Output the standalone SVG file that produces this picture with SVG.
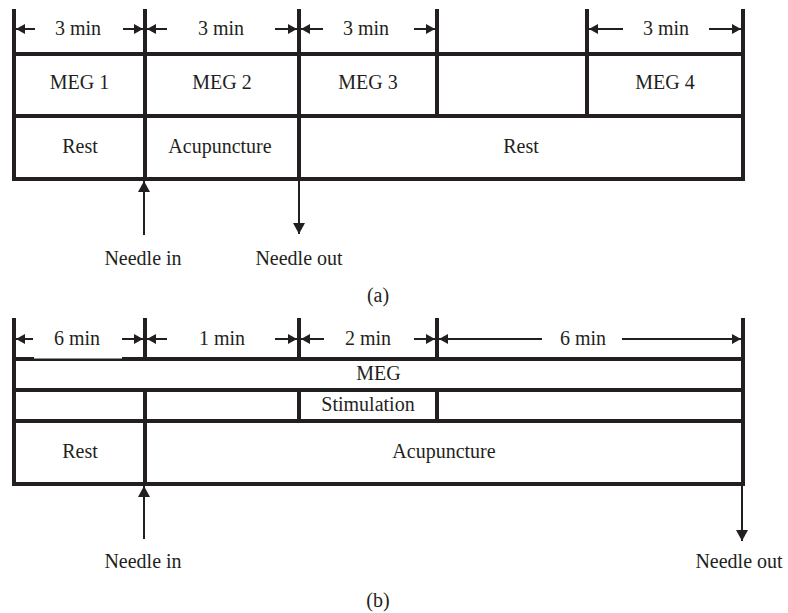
<svg xmlns="http://www.w3.org/2000/svg" width="788" height="613" viewBox="0 0 788 613">
<style>
  .frame{stroke:#231f20;stroke-width:4;fill:none;stroke-linecap:square}
  .dim{stroke:#231f20;stroke-width:2;fill:none}
  .needle{stroke:#231f20;stroke-width:2;fill:none}
  text{font-family:"Liberation Serif","Times New Roman",serif;font-size:20px;fill:#231f20;text-anchor:middle}
</style>
<defs>
  <marker id="ah" markerUnits="userSpaceOnUse" markerWidth="10" markerHeight="10" refX="9" refY="5" orient="auto">
    <path d="M0,0 L9,5 L0,10 Z" fill="#231f20"/>
  </marker>
  <marker id="nh" markerUnits="userSpaceOnUse" markerWidth="12" markerHeight="12" refX="11" refY="6" orient="auto">
    <path d="M0,0 L11,6 L0,12 Z" fill="#231f20"/>
  </marker>
</defs>

<!-- Panel (a) -->
<g id="panel-a-frame">
  <path class="frame" d="M14,11 V179 M145,11 V179 M299,11 V179 M437,11 V116 M587,11 V116 M743,11 V179 M14,54 H743 M14,116 H743 M14,179 H743"/>
</g>
<g id="a-dimensions">
  <path class="dim" marker-end="url(#ah)" d="M35,29 H16"/>
  <path class="dim" marker-end="url(#ah)" d="M123,29 H143"/>
  <text x="78" y="35">3 min</text>
  <path class="dim" marker-end="url(#ah)" d="M167,29 H147"/>
  <path class="dim" marker-end="url(#ah)" d="M275,29 H297"/>
  <text x="221" y="35">3 min</text>
  <path class="dim" marker-end="url(#ah)" d="M323,29 H301"/>
  <path class="dim" marker-end="url(#ah)" d="M414,29 H435"/>
  <text x="366" y="35">3 min</text>
  <path class="dim" marker-end="url(#ah)" d="M623,29 H589"/>
  <path class="dim" marker-end="url(#ah)" d="M709,29 H741"/>
  <text x="666" y="35">3 min</text>
</g>
<g id="a-meg1"><text x="79.5" y="89">MEG 1</text></g>
<g id="a-meg2"><text x="222" y="89">MEG 2</text></g>
<g id="a-meg3"><text x="368" y="89">MEG 3</text></g>
<g id="a-meg4"><text x="665" y="89">MEG 4</text></g>
<g id="a-rest1"><text x="80" y="153">Rest</text></g>
<g id="a-acu"><text x="220" y="153">Acupuncture</text></g>
<g id="a-rest2"><text x="521" y="153">Rest</text></g>
<g id="a-connectors">
  <path class="needle" marker-end="url(#nh)" d="M144,235 V181"/>
  <path class="needle" marker-end="url(#nh)" d="M299,181 V234"/>
</g>
<g id="a-needle-in"><text x="143" y="265">Needle in</text></g>
<g id="a-needle-out"><text x="299" y="265">Needle out</text></g>
<text x="378" y="302">(a)</text>

<!-- Panel (b) -->
<g id="panel-b-frame">
  <path class="frame" d="M14,320 V484 M145,320 V359 M145,390 V484 M299,320 V359 M299,390 V421 M437,320 V359 M437,390 V421 M743,320 V484 M14,359 H743 M14,390 H743 M14,421 H743 M14,484 H743"/>
</g>
<g id="b-dimensions">
  <rect x="34" y="328" width="88" height="30.5" fill="#fff"/>
  <path class="dim" marker-end="url(#ah)" d="M33,339 H16"/>
  <path class="dim" marker-end="url(#ah)" d="M122,339 H143"/>
  <text x="77" y="345">6 min</text>
  <path class="dim" marker-end="url(#ah)" d="M167,339 H147"/>
  <path class="dim" marker-end="url(#ah)" d="M275,339 H297"/>
  <text x="222" y="345">1 min</text>
  <path class="dim" marker-end="url(#ah)" d="M324,339 H301"/>
  <path class="dim" marker-end="url(#ah)" d="M414,339 H435"/>
  <text x="368" y="345">2 min</text>
  <path class="dim" marker-end="url(#ah)" d="M542,339 H439"/>
  <path class="dim" marker-end="url(#ah)" d="M622,339 H741"/>
  <text x="583" y="345">6 min</text>
</g>
<g id="b-meg"><text x="378.5" y="380">MEG</text></g>
<g id="b-stim"><text x="368" y="411">Stimulation</text></g>
<g id="b-rest"><text x="80" y="458">Rest</text></g>
<g id="b-acu"><text x="444" y="458">Acupuncture</text></g>
<g id="b-connectors">
  <path class="needle" marker-end="url(#nh)" d="M144,539 V486"/>
  <path class="needle" marker-end="url(#nh)" d="M742,486 V541"/>
</g>
<g id="b-needle-in"><text x="143" y="568">Needle in</text></g>
<g id="b-needle-out"><text x="739" y="568">Needle out</text></g>
<text x="378" y="607">(b)</text>
</svg>
